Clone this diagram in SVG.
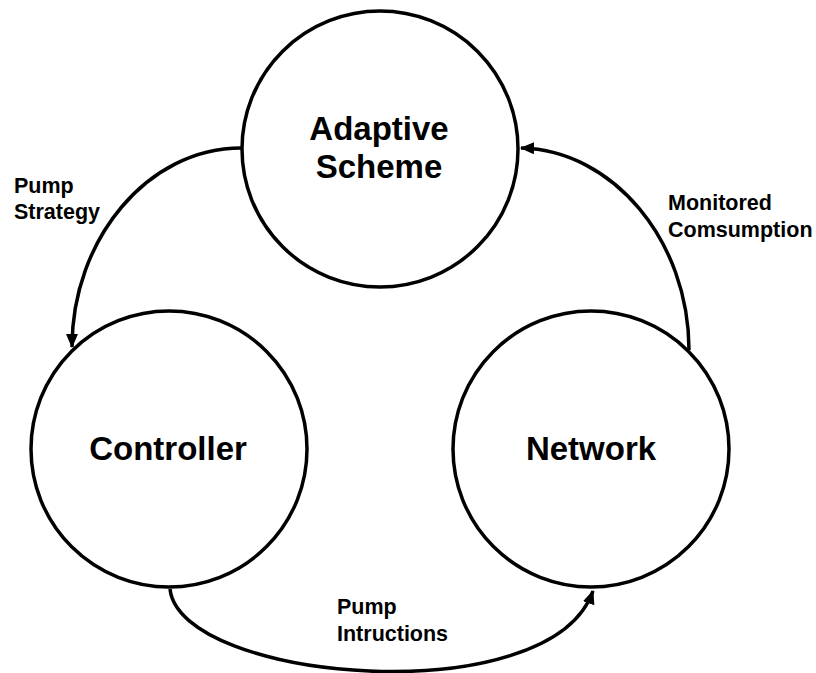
<svg xmlns="http://www.w3.org/2000/svg" width="816" height="673" viewBox="0 0 816 673">
<style>
.node{fill:#fff;stroke:#000;stroke-width:3.5}
.conn{fill:none;stroke:#000;stroke-width:3.5;marker-end:url(#arr)}
.nt{font-family:"Liberation Sans",Arial,sans-serif;font-weight:bold;font-size:33px;fill:#000;text-anchor:middle}
.et{font-family:"Liberation Sans",Arial,sans-serif;font-weight:bold;font-size:21.5px;fill:#000}
</style>
<defs>
<marker id="arr" markerUnits="userSpaceOnUse" markerWidth="16" markerHeight="14" refX="13" refY="6" orient="auto">
<path d="M0,0 L14,6 L0,12 z" fill="#000"/>
</marker>
</defs>
<rect width="816" height="673" fill="#fff"/>
<g id="connectors">
<path class="conn" d="M241,148 C148,148 72,239 72,347"/>
<path class="conn" d="M689,350 C689,241 613,150 521,148"/>
<path class="conn" d="M170,589 C180,682 550,714 593,591"/>
</g>
<g id="node-adaptive">
<circle class="node" cx="380" cy="149" r="138"/>
<text class="nt" x="379" y="140">Adaptive</text>
<text class="nt" x="379" y="178">Scheme</text>
</g>
<g id="node-controller">
<circle class="node" cx="169" cy="449" r="138"/>
<text class="nt" x="168" y="460">Controller</text>
</g>
<g id="node-network">
<circle class="node" cx="591" cy="449" r="138"/>
<text class="nt" x="591" y="460">Network</text>
</g>
<g id="labels">
<text class="et" x="14" y="193">Pump</text>
<text class="et" x="14" y="219">Strategy</text>
<text class="et" x="668" y="210">Monitored</text>
<text class="et" x="668" y="237">Comsumption</text>
<text class="et" x="337" y="614">Pump</text>
<text class="et" x="337" y="641">Intructions</text>
</g>
</svg>
